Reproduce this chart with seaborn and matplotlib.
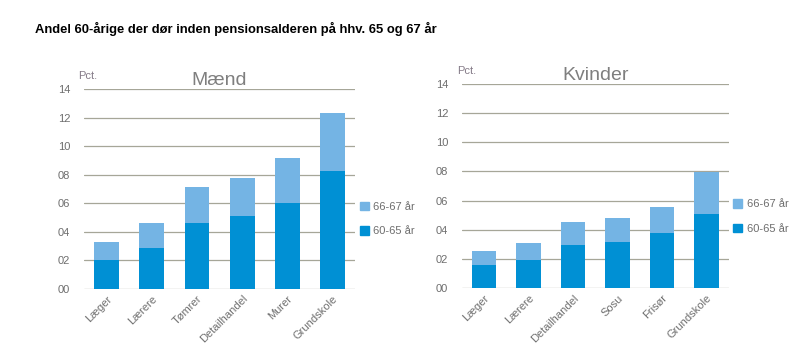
import matplotlib
matplotlib.use("Agg")
import matplotlib.pyplot as plt
import seaborn as sns
from matplotlib.patches import Patch

# --- Data -----------------------------------------------------------------
maend_cats = ["Læger", "Lærere", "Tømrer", "Detailhandel", "Murer", "Grundskole"]
maend_60_65 = [2.05, 2.9, 4.63, 5.13, 6.04, 8.28]
maend_total = [3.31, 4.63, 7.16, 7.79, 9.19, 12.34]

kvinder_cats = ["Læger", "Lærere", "Detailhandel", "Sosu", "Frisør", "Grundskole"]
kvinder_60_65 = [1.6, 1.94, 2.97, 3.17, 3.79, 5.09]
kvinder_total = [2.56, 3.1, 4.54, 4.82, 5.57, 7.95]

yticks = [0, 2, 4, 6, 8, 10, 12, 14]
ytick_labels = ["00", "02", "04", "06", "08", "10", "12", "14"]
legend_labels = ["66-67 år", "60-65 år"]

DARK = "#0090d4"
LIGHT = "#74b4e4"
GRID = "#a6a698"
TEXT = "#6e6e6e"

sns.set_theme(style="white")
plt.rcParams["font.family"] = ["Liberation Sans", "DejaVu Sans"]

fig = plt.figure(figsize=(8, 3.51), dpi=100)
ax_m = fig.add_axes([0.105, 0.177, 0.339, 0.569])
ax_k = fig.add_axes([0.5775, 0.179, 0.3335, 0.582])

fig.text(0.044, 0.918, "Andel 60-årige der dør inden pensionsalderen på hhv. 65 og 67 år",
         fontsize=9.4, fontweight="bold", color="black", va="center")


def draw_panel(ax, cats, lower, total, title):
    sns.barplot(x=cats, y=total, color=LIGHT, width=0.55, ax=ax, saturation=1,
                linewidth=0, zorder=2)
    sns.barplot(x=cats, y=lower, color=DARK, width=0.55, ax=ax, saturation=1,
                linewidth=0, zorder=3)
    ax.set_xlim(-0.5, len(cats) - 0.5)
    ax.set_ylim(0, 14)
    ax.set_yticks(yticks)
    ax.set_yticklabels(ytick_labels)
    for y in yticks:
        ax.axhline(y, color=GRID, lw=0.9, zorder=1)
    for s in ax.spines.values():
        s.set_visible(False)
    ax.tick_params(axis="both", length=0, colors=TEXT, labelsize=8)
    ax.tick_params(axis="y", pad=10)
    ax.set_xticks(range(len(cats)))
    ax.set_xticklabels(cats, rotation=45, ha="right", rotation_mode="anchor",
                       fontsize=8, color=TEXT)
    ax.set_xlabel("")
    ax.set_ylabel("")
    ax.set_title(title, fontsize=14, color="#7f7f7f", pad=3)
    ax.text(-0.02, 1.04, "Pct.", transform=ax.transAxes, fontsize=8,
            color="#857b88", va="bottom", ha="left")
    handles = [Patch(color=LIGHT), Patch(color=DARK)]
    ax.legend(handles, legend_labels, loc="center left", bbox_to_anchor=(1.0, 0.35),
              frameon=False, fontsize=8, labelcolor=TEXT, handlelength=0.8,
              handleheight=0.8, handletextpad=0.4, labelspacing=1.3, borderaxespad=0)


draw_panel(ax_m, maend_cats, maend_60_65, maend_total, "Mænd")
draw_panel(ax_k, kvinder_cats, kvinder_60_65, kvinder_total, "Kvinder")

fig.savefig("out.png", dpi=100)
